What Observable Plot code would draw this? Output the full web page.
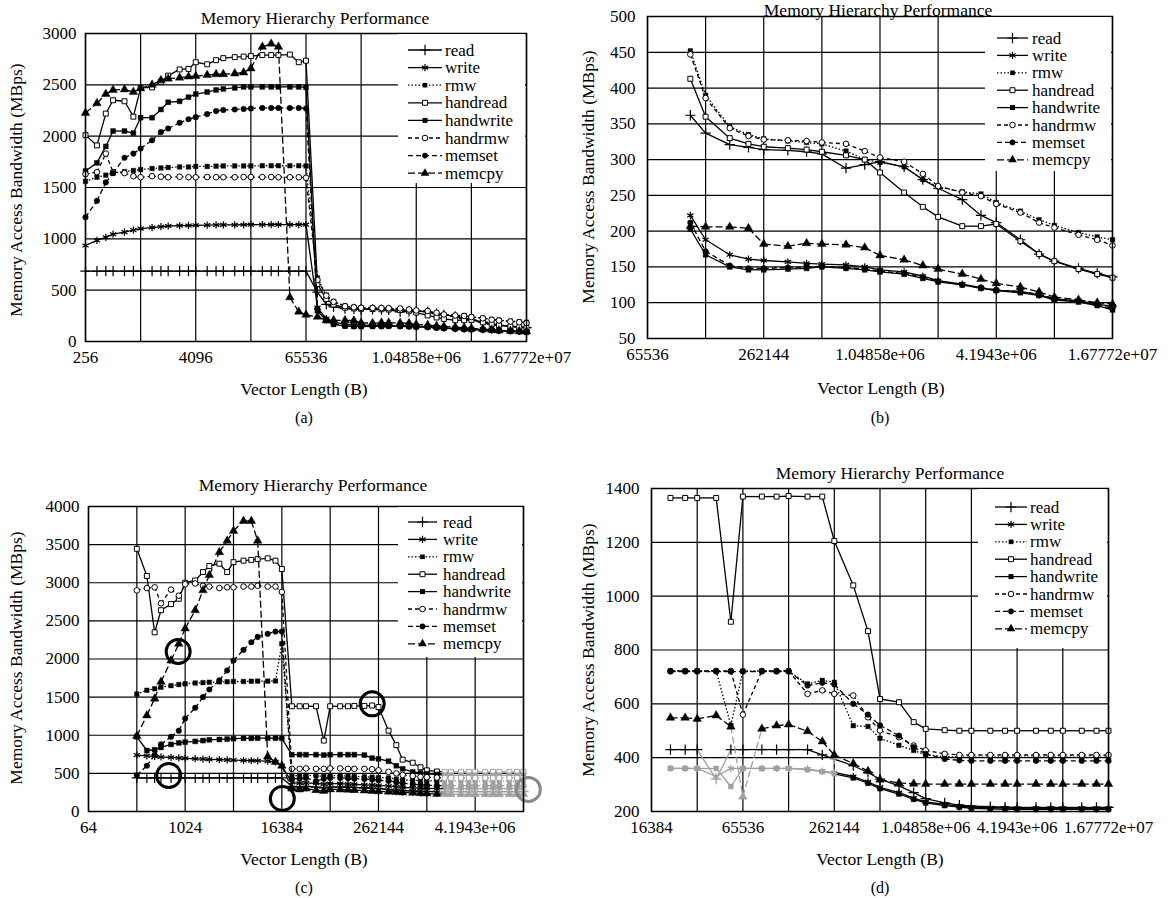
<!DOCTYPE html>
<html>
<head>
<meta charset="utf-8">
<script src="https://cdn.jsdelivr.net/npm/d3@7"></script>
<script src="https://cdn.jsdelivr.net/npm/@observablehq/plot@0.6"></script>
<style>
  body { margin: 0; background: white; }
  #root { position: relative; width: 1168px; height: 898px; overflow: hidden; background: white; }
  .panel { position: absolute; }
  #root svg, #root svg text { font-family: "Liberation Serif", "DejaVu Serif", serif !important; }
</style>
</head>
<body>
<div id="root"></div>
<script>
// ---------------- DATA ----------------
const seriesNames = ["read", "write", "rmw", "handread", "handwrite", "handrmw", "memset", "memcpy"];

// Panel (a): x = log2(vector length)
const aX = [8,8.415,8.737, 9,9.415,9.737, 10,10.415,10.737, 11,11.415,11.737, 12,12.415,12.737, 13,13.415,13.737, 14,14.415,14.737, 15,15.415,15.737, 16,16.415,16.737, 17,17.415,17.737, 18,18.415,18.737, 19,19.415,19.737, 20,20.415,20.737, 21,21.415,21.737, 22,22.415,22.737, 23,23.415,23.737, 24];
const aRead = [685,685,685, 685,685,685, 685,685,685, 685,685,685, 685,685,685, 685,685,685, 685,685,685, 685,685,685, 685, 480, 362,337,321,317,314,313,311,308,288,293,297,290,272,260,244,222,212,188,168,158,148,141,136];
const aWrite = [935,985,1015, 1045,1065,1085, 1100,1110,1118, 1125,1128,1130, 1132,1134,1135, 1136,1136,1137, 1138,1138,1138, 1138,1138,1138, 1138, 330, 222,188,167,161,159,157,155,154,153,150,146,143,137,131,126,121,117,116,111,105,103,98,95];
const aRmw = [1560,1600,1620, 1640,1655,1665, 1675,1685,1690, 1695,1700,1700, 1705,1705,1708, 1710,1710,1710, 1710,1712,1712, 1712,1712,1712, 1710, 620, 452,390,346,335,329,326,324,322,312,300,296,290,272,262,255,252,240,228,216,208,198,192,188];
const aHandread = [2010,1910,2220, 2350,2340,2190, 2470,2475,2530, 2590,2650,2655, 2720,2700,2740, 2760,2770,2775, 2780,2790,2790, 2790,2795,2720, 2735, 560, 413,360,330,322,318,316,314,311,306,300,282,254,234,220,207,207,210,186,168,158,147,140,135];
const aHandwrite = [1660,1740,1900, 2050,2050,2030, 2180,2180,2260, 2330,2340,2380, 2410,2430,2450, 2460,2470,2480, 2480,2480,2480, 2480,2480,2480, 2475, 300, 203,167,150,146,146,147,148,150,148,146,143,140,134,129,125,120,117,114,110,104,101,96,90];
const aHandrmw = [1630,1650,1830, 1650,1640,1610, 1600,1610,1605, 1600,1605,1600, 1600,1602,1600, 1600,1600,1602, 1602,1602,1602, 1600,1600,1600, 1595, 600, 447,386,344,333,328,327,326,324,322,312,303,297,280,263,254,249,238,226,212,205,195,188,180];
const aMemset = [1210,1370,1550, 1640,1790,1830, 1880,1960,2040, 2075,2130,2165, 2185,2215,2245, 2255,2260,2265, 2270,2275,2275, 2275,2275,2275, 2270, 320, 212,172,152,148,148,149,150,151,149,147,144,141,136,130,125,121,118,115,112,106,102,97,92];
const aMemcpy = [2225,2320,2410, 2450,2455,2430, 2465,2500,2545, 2560,2570,2580, 2585,2595,2603, 2603,2610,2620, 2660,2870,2900, 2870,430,290, 260, 240, 207,206,206,204,182,179,183,182,181,177,166,160,152,147,140,133,127,122,115,108,104,100,98];
const aXGrid = [256, 1024, 4096, 16384, 65536, 262144, 1048576, 4194304, 16777216];
const aXTicks = [256, 4096, 65536, 1048576, 16777216];
const aXTickLabels = ["256", "4096", "65536", "1.04858e+06", "1.67772e+07"];
const aYTicks = [0, 500, 1000, 1500, 2000, 2500, 3000];

// Panel (b)
const bX = [16.737, 17,17.415,17.737, 18,18.415,18.737, 19,19.415,19.737, 20,20.415,20.737, 21,21.415,21.737, 22,22.415,22.737, 23,23.415,23.737, 24];
const bRead = [362,337,321,317,314,313,311,308,288,293,297,290,272,260,244,222,212,188,168,158,148,141,136];
const bWrite = [222,188,167,161,159,157,155,154,153,150,146,143,137,131,126,121,117,116,111,105,103,98,95];
const bRmw = [452,390,346,335,329,326,324,322,312,300,296,290,272,262,255,252,240,228,216,208,198,192,188];
const bHandread = [413,360,330,322,318,316,314,311,306,300,282,254,234,220,207,207,210,186,168,158,147,140,135];
const bHandwrite = [203,167,150,146,146,147,148,150,148,146,143,140,134,129,125,120,117,114,110,104,101,96,90];
const bHandrmw = [447,386,344,333,328,327,326,324,322,312,303,297,280,263,254,249,238,226,212,205,195,188,180];
const bMemset = [212,172,152,148,148,149,150,151,149,147,144,141,136,130,125,121,118,115,112,106,102,97,92];
const bMemcpy = [207,206,206,204,182,179,183,182,181,177,166,160,152,147,140,133,127,122,115,108,104,100,98];
const bXGrid = [65536, 131072, 262144, 524288, 1048576, 2097152, 4194304, 8388608, 16777216];
const bXTicks = [65536, 262144, 1048576, 4194304, 16777216];
const bXTickLabels = ["65536", "262144", "1.04858e+06", "4.1943e+06", "1.67772e+07"];
const bYTicks = [50, 100, 150, 200, 250, 300, 350, 400, 450, 500];

// Panel (c)
const cX = [8,8.415,8.737, 9,9.415,9.737, 10,10.415,10.737, 11,11.415,11.737, 12,12.415,12.737, 13,13.415,13.737, 14,14.415,14.737, 15,15.415,15.737, 16,16.415,16.737, 17,17.415,17.737, 18,18.415,18.737, 19,19.415,19.737, 20,20.415,20.737, 21,21.415,21.737, 22,22.415,22.737, 23,23.415,23.737, 24];
const cRead = [440,440,440, 440,440,440, 440,440,440, 440,440,440, 440,440,440, 440,440,440, 440, 330,320,330,320,310, 320,320,320,315,310, 305,300,290,280,275, 270,265,262,260,260, 260,260,260,260,260, 260,260,260,260,260];
const cWrite = [740,730,722, 715,710,702, 698,692,688, 684,680,677, 674,671,668, 665,660,650, 600, 380,370,375,370,360, 365,365,360,355,350, 345,340,335,325,315, 310,305,302,300,300, 300,300,300,300,300, 300,300,300,300,300];
const cRmw = [1540,1590,1610, 1630,1650,1665, 1675,1685,1690, 1695,1700,1702, 1705,1705,1708, 1710,1710,1712, 2200, 470,470,475,470,460, 470,470,465,460,455, 450,445,440,425,415, 410,405,402,400,400, 400,400,400,400,400, 400,400,400,400,400];
const cHandread = [3445,3090,2350, 2640,2720,2790, 3000,3030,3140, 3220,3250,3140, 3270,3290,3300, 3310,3320,3290, 3180, 1380,1380,1380,1380,930, 1380,1380,1380,1385,1385, 1390,1370,1060,870,680, 640,580,540,525,520, 520,520,520,520,520, 520,520,520,520,520];
const cHandwrite = [980,800,810, 840,880,900, 910,920,930, 940,945,950, 955,960,960, 962,962,962, 960, 745,745,745,745,740, 745,745,745,745,740, 700,690,660,600,560, 520,505,495,485,478, 475,475,475,475,475, 475,475,475,475,475];
const cHandrmw = [2900,2930,2940, 2730,2910,2830, 2980,2990,2960, 2950,2930,2940, 2940,2950,2950, 2960,2950,2950, 2880, 560,560,565,560,560, 565,565,560,560,560, 555,540,520,500,480, 465,455,450,445,440, 440,440,440,440,440, 440,440,440,440,440];
const cMemset = [475,600,740, 880,980,1060, 1220,1360,1500, 1600,1720,1850, 1980,2120,2220, 2290,2330,2360, 2360, 430,430,440,400,430, 440,440,435,430,425, 420,410,400,385,370, 360,350,345,340,340, 340,340,340,340,340, 340,340,340,340,340];
const cMemcpy = [990,1260,1480, 1700,1980,2200, 2400,2640,2900, 3100,3400,3550, 3680,3810,3810, 3550,720,650, 600, 300,290,300,280,270, 290,290,285,280,275, 270,265,260,255,250, 245,240,235,230,228, 225,225,225,225,225, 225,225,225,225,225];
const cCircleX = [9.71, 9.32, 14.02, 17.74];
const cCircleY = [2098, 472, 170, 1412];
const cGrayCircleX = [24.2];
const cGrayCircleY = [290];
const cXGrid = [64, 256, 1024, 4096, 16384, 65536, 262144, 1048576, 4194304, 16777216];
const cXTicks = [64, 1024, 16384, 262144, 4194304];
const cXTickLabels = ["64", "1024", "16384", "262144", "4.1943e+06"];
const cYTicks = [0, 500, 1000, 1500, 2000, 2500, 3000, 3500, 4000];

// Panel (d)
const dX = [14.415,14.737, 15,15.415,15.737, 16,16.415,16.737, 17,17.415,17.737, 18,18.415,18.737, 19,19.415,19.737, 20,20.415,20.737, 21,21.415,21.737, 22,22.415,22.737, 23,23.415,23.737, 24];
const dRead = [430,430,430,320,430, 430,430,430,430,430, 410,395,370,345,320, 295,270,248,232,224, 220,218,216,215,215, 215,215,215,215,215];
const dWrite = [360,360,360,330,360, 360,360,360,360,358, 350,345,330,310,290, 270,250,236,226,220, 216,214,213,212,212, 212,212,212,212,212];
const dRmw = [722,722,722,722,520, 722,722,722,722,674, 687,680,519,516,472, 446,427,410,404,402, 402,402,402,402,402, 402,402,402,402,402];
const dHandread = [1365,1365,1365,1365,905, 1370,1370,1370,1372,1370, 1370,1205,1040,870,618, 606,532,507,502,500, 500,500,500,500,500, 500,500,500,500,500];
const dHandwrite = [360,360,360,360,293, 360,360,360,360,355, 348,340,325,305,285, 265,245,232,222,216, 212,210,208,208,208, 208,208,208,208,208];
const dHandrmw = [722,722,722,722,722, 560,722,722,722,637, 650,637,631,550,501, 476,445,427,414,410, 410,410,410,410,410, 410,410,410,410,410];
const dMemset = [720,720,720,720,720, 720,720,720,720,668, 678,672,600,560,520, 482,439,414,395,390, 388,388,388,388,388, 388,388,388,388,388];
const dMemcpy = [548,548,544,557,515, 255,507,519,523,498, 460,410,378,350,318, 306,303,302,302,302, 302,302,302,302,302, 302,302,302,302,302];
const dXGrid = [16384, 32768, 65536, 131072, 262144, 524288, 1048576, 2097152, 4194304, 8388608, 16777216];
const dXTicks = [16384, 65536, 262144, 1048576, 4194304, 16777216];
const dXTickLabels = ["16384", "65536", "262144", "1.04858e+06", "4.1943e+06", "1.67772e+07"];
const dYTicks = [200, 400, 600, 800, 1000, 1200, 1400];

// ---------------- STYLES ----------------
const INK = "black", FADE = "#a0a0a0";
const styles = {
  read:      {symbol: "plus",     sym: d3.symbolPlus,     open: false, stroked: true, dash: null,      r: 3.4},
  write:     {symbol: "asterisk", sym: d3.symbolAsterisk, open: false, stroked: true, dash: null,      r: 3.4},
  rmw:       {symbol: "square",   sym: d3.symbolSquare,   open: false, dash: "1.5,2",  r: 2.6},
  handread:  {symbol: "square",   sym: d3.symbolSquare,   open: true,  dash: null,      r: 2.8},
  handwrite: {symbol: "square",   sym: d3.symbolSquare,   open: false, dash: null,      r: 2.8},
  handrmw:   {symbol: "circle",   sym: d3.symbolCircle,   open: true,  dash: "4,3",     r: 2.8},
  memset:    {symbol: "circle",   sym: d3.symbolCircle,   open: false, dash: "5,3",     r: 2.8},
  memcpy:    {symbol: "triangle", sym: d3.symbolTriangle, open: false, dash: "7,3",     r: 3.2}
};
const FONT = '"Liberation Serif", "DejaVu Serif", serif';

// ---------------- PANELS ----------------
const panels = [
  {left: 0, top: 0, width: 570, height: 440, margin: {top: 33, right: 44, bottom: 99, left: 85}, yPad: 9,
   xExp: aX, xDomain: [256, 16777216], xGrid: aXGrid, xTicks: aXTicks, xTickLabels: aXTickLabels,
   yDomain: [0, 3000], yTicks: aYTicks,
   data: {read: aRead, write: aWrite, rmw: aRmw, handread: aHandread, handwrite: aHandwrite, handrmw: aHandrmw, memset: aMemset, memcpy: aMemcpy},
   fade: () => false,
   title: [315, 18], xlabel: [304, 389], caption: [304, 417, "(a)"], ylabel: [16, 190],
   legend: {x0: 398, x1: 525, y0: 34, y1: 183, row0: 50, step: 17.6, lx0: 408, lx1: 442, tx: 445}},
  {left: 570, top: 0, width: 598, height: 440, margin: {top: 16, right: 56, bottom: 102, left: 77}, yPad: 12,
   xExp: bX, xDomain: [65536, 16777216], xGrid: bXGrid, xTicks: bXTicks, xTickLabels: bXTickLabels,
   yDomain: [50, 500], yTicks: bYTicks,
   data: {read: bRead, write: bWrite, rmw: bRmw, handread: bHandread, handwrite: bHandwrite, handrmw: bHandrmw, memset: bMemset, memcpy: bMemcpy},
   fade: () => false,
   title: [308, 10], xlabel: [311, 388], caption: [310, 417, "(b)"], ylabel: [18, 177],
   legend: {x0: 415, x1: 541, y0: 17, y1: 171, row0: 38, step: 17.4, lx0: 427, lx1: 458, tx: 462}},
  {left: 0, top: 440, width: 570, height: 458, margin: {top: 66, right: 47, bottom: 87, left: 88}, yPad: 9,
   xExp: cX, xDomain: [64, 16777216], xGrid: cXGrid, xTicks: cXTicks, xTickLabels: cXTickLabels,
   yDomain: [0, 4000], yTicks: cYTicks,
   data: {read: cRead, write: cWrite, rmw: cRmw, handread: cHandread, handwrite: cHandwrite, handrmw: cHandrmw, memset: cMemset, memcpy: cMemcpy},
   fade: (e, v) => e >= 20.6,
   circles: {x: cCircleX, y: cCircleY, gx: cGrayCircleX, gy: cGrayCircleY},
   title: [313, 45], xlabel: [304, 419], caption: [304, 447, "(c)"], ylabel: [16, 218],
   legend: {x0: 398, x1: 522, y0: 67, y1: 217, row0: 82, step: 17.4, lx0: 408, lx1: 437, tx: 443}},
  {left: 570, top: 440, width: 598, height: 458, margin: {top: 48, right: 60, bottom: 87, left: 81}, yPad: 12,
   xExp: dX, xDomain: [16384, 16777216], xGrid: dXGrid, xTicks: dXTicks, xTickLabels: dXTickLabels,
   yDomain: [200, 1400], yTicks: dYTicks,
   data: {read: dRead, write: dWrite, rmw: dRmw, handread: dHandread, handwrite: dHandwrite, handrmw: dHandrmw, memset: dMemset, memcpy: dMemcpy},
   fade: (e, v) => e <= 18.1 && v <= 400,
   title: [320, 33], xlabel: [310, 419], caption: [310, 447, "(d)"], ylabel: [18, 210],
   legend: {x0: 408, x1: 537, y0: 49, y1: 208, row0: 67, step: 17.4, lx0: 425, lx1: 457, tx: 460}}
];

function dotOpts(st, color) {
  if (st.stroked) return {symbol: st.symbol, r: st.r, fill: "none", stroke: color, strokeWidth: 1.2};
  if (st.open) return {symbol: st.symbol, r: st.r, fill: "white", stroke: color, strokeWidth: 1};
  return {symbol: st.symbol, r: st.r, fill: color, stroke: color, strokeWidth: 0.4};
}

function makePanel(p) {
  const marks = [
    Plot.ruleX(p.xGrid, {stroke: INK, strokeWidth: 1.2}),
    Plot.ruleY(p.yTicks, {stroke: INK, strokeWidth: 1.2})
  ];
  for (const name of seriesNames) {
    const vals = p.data[name], st = styles[name];
    const pts = vals.map((v, i) => ({x: 2 ** p.xExp[i], y: v, faded: p.fade(p.xExp[i], v)}));
    const segs = [];
    for (let i = 0; i < vals.length - 1; i++) {
      const em = (p.xExp[i] + p.xExp[i + 1]) / 2, vm = (vals[i] + vals[i + 1]) / 2;
      segs.push({x1: pts[i].x, y1: vals[i], x2: pts[i + 1].x, y2: vals[i + 1], faded: p.fade(em, vm)});
    }
    const lineOpts = {x1: "x1", y1: "y1", x2: "x2", y2: "y2", strokeWidth: 1.3};
    if (st.dash) lineOpts.strokeDasharray = st.dash;
    marks.push(Plot.link(segs.filter(s => !s.faded), {...lineOpts, stroke: INK}));
    marks.push(Plot.link(segs.filter(s => s.faded), {...lineOpts, stroke: FADE}));
    marks.push(Plot.dot(pts.filter(d => !d.faded), {x: "x", y: "y", ...dotOpts(st, INK)}));
    marks.push(Plot.dot(pts.filter(d => d.faded), {x: "x", y: "y", ...dotOpts(st, FADE)}));
  }
  if (p.circles) {
    const c = p.circles;
    marks.push(Plot.dot(c.x.map((e, i) => ({x: 2 ** e, y: c.y[i]})), {x: "x", y: "y", r: 12, stroke: INK, strokeWidth: 3, fill: "none"}));
    marks.push(Plot.dot(c.gx.map((e, i) => ({x: 2 ** e, y: c.gy[i]})), {x: "x", y: "y", r: 12, stroke: "#8a8a8a", strokeWidth: 3, fill: "none"}));
  }
  marks.push(Plot.frame({stroke: INK, strokeWidth: 1.5}));

  const svg = Plot.plot({
    width: p.width, height: p.height,
    marginTop: p.margin.top, marginRight: p.margin.right, marginBottom: p.margin.bottom, marginLeft: p.margin.left,
    style: {fontFamily: FONT, fontSize: "17px", background: "transparent", overflow: "visible", color: "black"},
    x: {type: "log", base: 2, domain: p.xDomain, ticks: p.xTicks,
        tickFormat: d => p.xTickLabels[p.xTicks.indexOf(d)] ?? "", tickSize: 0, tickPadding: 9, label: null},
    y: {domain: p.yDomain, ticks: p.yTicks, tickFormat: d => String(d), tickSize: 0, tickPadding: p.yPad, label: null},
    marks
  });

  const s = d3.select(svg);
  s.attr("font-family", FONT).style("font-family", FONT);
  const txt = (x, y, str) => s.append("text")
    .attr("x", x).attr("y", y).attr("text-anchor", "middle").attr("dominant-baseline", "central")
    .attr("fill", "black").style("font-size", "17.5px").text(str);
  txt(p.title[0], p.title[1], "Memory Hierarchy Performance");
  txt(p.xlabel[0], p.xlabel[1], "Vector Length (B)");
  txt(p.caption[0], p.caption[1], p.caption[2]).style("font-size", "16px");
  s.append("text").attr("transform", `translate(${p.ylabel[0]},${p.ylabel[1]}) rotate(-90)`)
    .attr("text-anchor", "middle").attr("dominant-baseline", "central").attr("fill", "black")
    .style("font-size", "17.5px").text("Memory Access Bandwidth (MBps)");

  // legend
  const L = p.legend;
  const g = s.append("g");
  g.append("rect").attr("x", L.x0).attr("y", L.y0).attr("width", L.x1 - L.x0).attr("height", L.y1 - L.y0).attr("fill", "white");
  seriesNames.forEach((name, i) => {
    const st = styles[name], y = L.row0 + i * L.step;
    const ln = g.append("line").attr("x1", L.lx0).attr("x2", L.lx1).attr("y1", y).attr("y2", y)
      .attr("stroke", "black").attr("stroke-width", 1.3);
    if (st.dash) ln.attr("stroke-dasharray", st.dash);
    const path = g.append("path").attr("transform", `translate(${(L.lx0 + L.lx1) / 2},${y})`)
      .attr("d", d3.symbol(st.sym, Math.PI * st.r * st.r)());
    if (st.stroked) path.attr("fill", "none").attr("stroke", "black").attr("stroke-width", 1.2);
    else if (st.open) path.attr("fill", "white").attr("stroke", "black").attr("stroke-width", 1);
    else path.attr("fill", "black");
    g.append("text").attr("x", L.tx).attr("y", y).attr("text-anchor", "start").attr("dominant-baseline", "central")
      .attr("fill", "black").style("font-size", "17px").text(name);
  });
  s.selectAll("text").style("font-family", FONT);

  const div = document.createElement("div");
  div.className = "panel";
  div.style.left = p.left + "px";
  div.style.top = p.top + "px";
  div.style.width = p.width + "px";
  div.style.height = p.height + "px";
  div.appendChild(svg);
  document.getElementById("root").appendChild(div);
}

panels.forEach(makePanel);
</script>
</body>
</html>
